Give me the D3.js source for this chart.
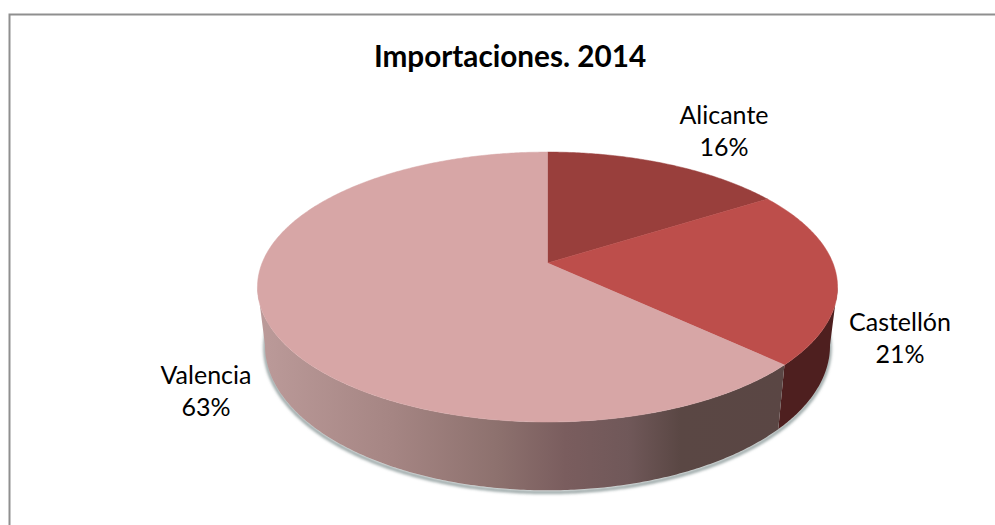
<!DOCTYPE html>
<html>
<head>
<meta charset="utf-8">
<script src="https://cdn.jsdelivr.net/npm/d3@7"></script>
<style>
    html, body { margin: 0; padding: 0; background: #fff; overflow: hidden; }
    text { font-family: Lato, "Open Sans", sans-serif; fill: #000; text-anchor: middle; }
    .title { font-size: 29.7px; font-weight: 700; }
    .pieLabel { font-size: 25px; }
</style>
</head>
<body>
<div id="chart"></div>
<script>
let title = "Importaciones. 2014"
let categories = ["Alicante", "Castellón", "Valencia"]
let values = [16, 21, 63]
let topColors = ["#993f3c", "#bd4e4b", "#d7a6a6"]
let wallColors = ["#993f3c", "#4e1f1f", "url(#wallGradient)"]

// wall shading, left to right
let wallStops = [
    {offset: "0%", color: "#bb9a99"},
    {offset: "25%", color: "#a58583"},
    {offset: "45%", color: "#8d716e"},
    {offset: "58%", color: "#7a5d5e"},
    {offset: "70%", color: "#705859"},
    {offset: "80%", color: "#5a4744"},
    {offset: "100%", color: "#5a4644"}
]

let width = 995, height = 525

let svg = d3.select("#chart").append("svg")
    .attr("width", width)
    .attr("height", height)
    .style("display", "block")

let defs = svg.append("defs")
let grad = defs.append("linearGradient")
    .attr("id", "wallGradient")
    .attr("gradientUnits", "userSpaceOnUse")
    .attr("x1", 262).attr("x2", 785)
    .attr("y1", 0).attr("y2", 0)
grad.selectAll("stop")
    .data(wallStops)
    .enter()
    .append("stop")
    .attr("offset", (d) => d.offset)
    .attr("stop-color", (d) => d.color)
defs.append("filter")
    .attr("id", "soft")
    .append("feGaussianBlur")
    .attr("stdDeviation", 1.6)

// chart frame: only the top and left edges show
svg.append("path")
    .attr("d", "M9.5," + height + "V14.5H" + width)
    .attr("fill", "none")
    .attr("stroke", "#8f8f8f")
    .attr("stroke-width", 2)

// perspective projection of the disc, angle 0 is up and goes clockwise
let apex = [547.5, 263]
function projector(cx, cy, rx, ry, k) {
    return (angle) => {
        let u = Math.sin(angle), v = -Math.cos(angle)
        let w = 1 + k * v
        return [cx + rx * u / w, cy + ry * v / w]
    }
}
let topRim = projector(apex[0], apex[1], 285.4, 130.7, -0.178)
let bottomRim = projector(apex[0], 320, 278, 140, -0.178)

function sweep(a0, a1) {
    let n = Math.max(2, Math.ceil((a1 - a0) / 0.01))
    return d3.range(n + 1).map((i) => a0 + (a1 - a0) * i / n)
}

let line = d3.line()

let slices = d3.pie().sort(null)(values).map((d, i) => {
    d.name = categories[i]
    return d
})

// only the front of the wall can be seen
let wallFrom = 100 * Math.PI / 180
let wallTo = 260 * Math.PI / 180

// soft shadow under the disc
svg.append("path")
    .attr("d", line(sweep(wallFrom - 0.25, wallTo + 0.25).map(bottomRim)))
    .attr("transform", "translate(0,2)")
    .attr("fill", "none")
    .attr("stroke", "#8c9a9a")
    .attr("stroke-width", 3)
    .attr("filter", "url(#soft)")

svg.selectAll("path.wall")
    .data(slices.filter((d) => d.endAngle > wallFrom))
    .enter()
    .append("path")
    .attr("class", "wall")
    .attr("fill", (d) => wallColors[d.index])
    .attr("d", (d) => {
        let a = sweep(Math.max(d.startAngle, wallFrom), Math.min(d.endAngle, wallTo))
        return line(a.map(topRim).concat(a.slice().reverse().map(bottomRim))) + "Z"
    })

svg.selectAll("path.top")
    .data(slices)
    .enter()
    .append("path")
    .attr("class", "top")
    .attr("fill", (d) => topColors[d.index])
    .attr("stroke", (d) => topColors[d.index])
    .attr("stroke-width", 0.5)
    .attr("d", (d) => {
        return line([apex].concat(sweep(d.startAngle, d.endAngle).map(topRim))) + "Z"
    })

svg.append("text")
    .attr("class", "title")
    .attr("x", 510)
    .attr("y", 67)
    .text(title)

// label baselines, as placed in the picture
let labelSpots = [[724, 124], [900, 331], [206, 384]]

svg.selectAll("text.pieLabel")
    .data(slices)
    .enter()
    .append("text")
    .attr("class", "pieLabel")
    .attr("x", (d) => labelSpots[d.index][0])
    .attr("y", (d) => labelSpots[d.index][1])
    .text((d) => d.name)

svg.selectAll("text.pieValue")
    .data(slices)
    .enter()
    .append("text")
    .attr("class", "pieLabel pieValue")
    .attr("x", (d) => labelSpots[d.index][0])
    .attr("y", (d) => labelSpots[d.index][1] + 32)
    .text((d) => d.value + "%")
</script>
</body>
</html>
